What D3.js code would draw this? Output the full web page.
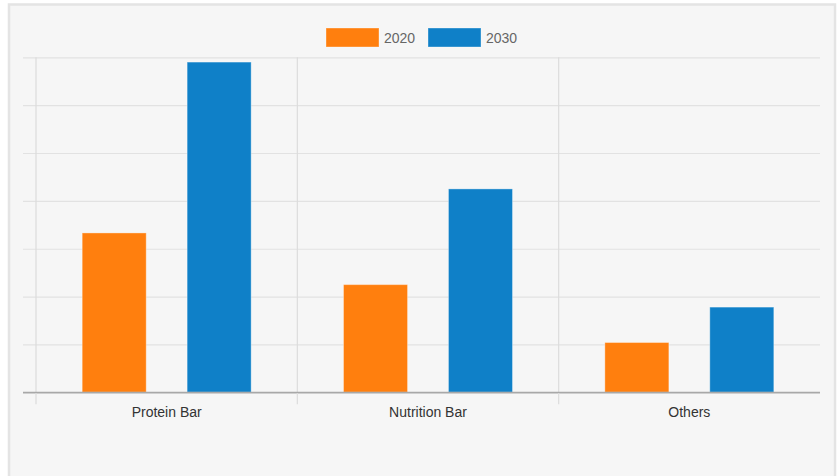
<!DOCTYPE html>
<html>
<head>
<meta charset="utf-8">
<script src="https://cdn.jsdelivr.net/npm/d3@7"></script>
<style>
  body { margin: 0; background: #fff; }
  text { font-family: "Liberation Sans", Arial, sans-serif; }
</style>
</head>
<body>
<svg id="chart"></svg>
<script>
// chart data
const categories = ['Protein Bar', 'Nutrition Bar', 'Others'];
const years = ['2020', '2030'];
const values2020 = [3.33, 2.25, 1.04];
const values2030 = [6.9, 4.25, 1.78];
const yTicks = [0, 1, 2, 3, 4, 5, 6, 7];
const colors = ['#ff7f0e', '#0f80c8'];

const config = {
    width: 838,
    height: 476,
    margin: {top: 57.3, right: 18, bottom: 83.7, left: 36}
};

const svg = d3.select('#chart')
    .attr('width', config.width)
    .attr('height', config.height);

// background panel
svg.append('rect')
    .attr('x', 9)
    .attr('y', 4.5)
    .attr('width', 826)
    .attr('height', 480)
    .attr('fill', '#f6f6f6')
    .attr('stroke', '#e4e4e4')
    .attr('stroke-width', 2.5);

const width = config.width - config.margin.left - config.margin.right;
const height = config.height - config.margin.top - config.margin.bottom;

const chart = svg.append('g')
    .attr('transform', `translate(${config.margin.left},${config.margin.top})`);

const yScale = d3.scaleLinear()
    .domain([0, 7])
    .range([height, 0]);

const xScale = d3.scaleBand()
    .domain(categories)
    .range([0, width]);

const xInner = d3.scaleBand()
    .domain(years)
    .range([0, xScale.bandwidth()])
    .paddingInner(0.39)
    .paddingOuter(0.44);

// horizontal gridlines (start 13px left of the axis line)
const yAxis = d3.axisLeft(yScale)
    .tickValues(yTicks)
    .tickSize(-(width + 13))
    .tickFormat('');

const yAxisG = chart.append('g')
    .attr('transform', 'translate(-13,0)')
    .call(yAxis);
yAxisG.select('.domain').remove();
yAxisG.selectAll('.tick line')
    .attr('stroke', d => d === 0 ? '#a8a8a8' : '#e2e2e2')
    .attr('stroke-width', 1.2);

// vertical lines at band starts
chart.selectAll('.sep')
    .data(categories)
    .join('line')
    .attr('class', 'sep')
    .attr('x1', d => xScale(d))
    .attr('x2', d => xScale(d))
    .attr('y1', 0)
    .attr('y2', height + 12)
    .attr('stroke', '#dcdcdc')
    .attr('stroke-width', 1.2);

// bars
const series = [values2020, values2030];
categories.forEach((cat, i) => {
    const g = chart.append('g')
        .attr('transform', `translate(${xScale(cat)},0)`);
    g.selectAll('rect')
        .data(years.map((y, j) => ({year: y, value: series[j][i], color: colors[j]})))
        .join('rect')
        .attr('x', d => xInner(d.year))
        .attr('y', d => yScale(d.value))
        .attr('width', xInner.bandwidth())
        .attr('height', d => height - yScale(d.value))
        .attr('fill', d => d.color)
        .attr('stroke', 'rgba(255,255,255,0.35)')
        .attr('stroke-width', 1);
});

// redraw baseline on top of bars
chart.append('line')
    .attr('x1', -13)
    .attr('x2', width)
    .attr('y1', height)
    .attr('y2', height)
    .attr('stroke', '#a8a8a8')
    .attr('stroke-width', 1.2);

// category labels
chart.selectAll('.cat-label')
    .data(categories)
    .join('text')
    .attr('class', 'cat-label')
    .attr('x', d => xScale(d) + xScale.bandwidth() / 2)
    .attr('y', height + 25)
    .attr('text-anchor', 'middle')
    .attr('font-size', 14)
    .attr('fill', '#333')
    .text(d => d);

// legend
const legend = svg.append('g')
    .attr('transform', 'translate(326,28)');
const legendItems = legend.selectAll('g')
    .data(years)
    .join('g')
    .attr('transform', (d, i) => `translate(${i * 102},0)`);
legendItems.append('rect')
    .attr('width', 53)
    .attr('height', 19)
    .attr('fill', (d, i) => colors[i])
    .attr('stroke', 'rgba(255,255,255,0.35)');
legendItems.append('text')
    .attr('x', 58)
    .attr('y', 14.5)
    .attr('font-size', 14)
    .attr('fill', '#666')
    .text(d => d);
</script>
</body>
</html>
